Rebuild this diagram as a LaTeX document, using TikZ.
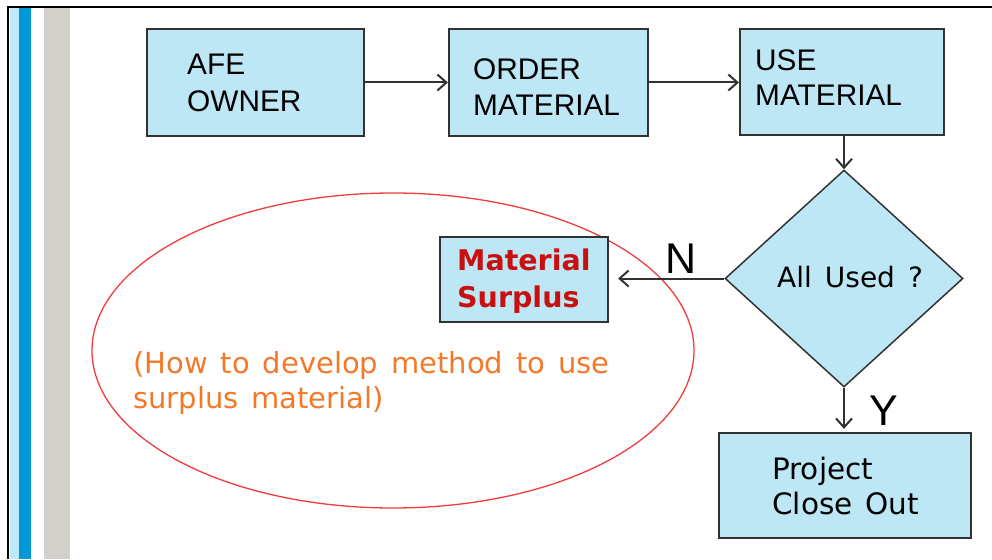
\documentclass[tikz,border=0pt]{standalone}
\usepackage{fontspec}
\setmainfont{Liberation Sans}
\newfontfamily\vfont{DejaVu Sans}
\usetikzlibrary{shapes.geometric,arrows.meta}

\definecolor{boxfill}{RGB}{189,231,245}
\definecolor{boxline}{RGB}{50,50,50}
\definecolor{barlight}{RGB}{189,233,248}
\definecolor{bardark}{RGB}{0,152,214}
\definecolor{bargray}{RGB}{211,207,203}
\definecolor{noteorange}{RGB}{243,121,42}
\definecolor{surplusred}{RGB}{200,16,16}
\definecolor{ringred}{RGB}{240,60,60}

\newcommand{\widespaces}{\spaceskip=13pt plus 2pt\relax}

\begin{document}
\begin{tikzpicture}[x=1pt,y=-1pt,
  box/.style={draw=boxline,fill=boxfill,line width=2.2pt,rectangle,inner sep=0pt},
  decision/.style={draw=boxline,fill=boxfill,line width=1.5pt,diamond,inner sep=0pt},
  arialtxt/.style={anchor=base west,inner sep=0pt,font=\fontsize{29.8}{36}\selectfont},
  verdtxt/.style={anchor=base west,inner sep=0pt,font=\vfont\fontsize{29}{34}\selectfont,
    execute at begin node=\widespaces},
  flow/.style={draw=boxline,line width=2pt,-{Straight Barb[length=9pt,width=16pt,line width=2pt]}},
  branch/.style={anchor=base west,inner sep=0pt,font=\fontsize{43}{43}\selectfont}
]
\useasboundingbox (0,0) rectangle (992,559);

% side bars and frame
\fill[barlight] (10,8) rectangle (19,559);
\fill[bardark] (19,8) rectangle (31,559);
\fill[bargray] (44,8) rectangle (70,559);
\draw[black,line width=2pt] (8,559) -- (8,7) -- (992,7);

% surplus note ring
\draw[ringred,line width=1.3pt] (393,350.5) ellipse [x radius=301,y radius=157.5];

% process boxes
\node[box,minimum width=217,minimum height=107] (afe) at (255.5,82.5) {};
\node[box,minimum width=199,minimum height=107] (order) at (548.5,82.5) {};
\node[box,minimum width=204,minimum height=106] (use) at (842,82) {};
\node[decision,minimum width=238,minimum height=217] (used) at (844,278.5) {};
\node[box,minimum width=168,minimum height=85] (surplus) at (524,279.5) {};
\node[box,minimum width=252,minimum height=105] (close) at (845,485.5) {};

% box texts
\node[arialtxt] (afeA) at (187,75) {AFE};
\node[arialtxt] (afeB) at (187,111) {OWNER};
\node[arialtxt] (orderA) at (473,80) {ORDER};
\node[arialtxt] (orderB) at (473,116) {MATERIAL};
\node[arialtxt] (useA) at (755,71) {USE};
\node[arialtxt] (useB) at (755,106) {MATERIAL};
\node[verdtxt,font=\vfont\fontsize{28}{34}\selectfont] (usedtxt) at (777,287) {All Used ?};
\node[verdtxt,font=\vfont\bfseries\fontsize{28.5}{34}\selectfont,text=surplusred] (surA) at (457,270) {Material};
\node[verdtxt,font=\vfont\bfseries\fontsize{28.5}{34}\selectfont,text=surplusred] (surB) at (457,307) {Surplus};
\node[verdtxt,font=\vfont\fontsize{29.5}{34}\selectfont] (closeA) at (772,479) {Project};
\node[verdtxt,font=\vfont\fontsize{29.5}{34}\selectfont] (closeB) at (772,514) {Close Out};
\node[verdtxt,text=noteorange] (noteA) at (133,373) {(How to develop method to use};
\node[verdtxt,text=noteorange] (noteB) at (133,408) {surplus material)};

% connectors
\draw[flow] (afe) -- (order);
\draw[flow] (order.east) -- (use.west |- order.east);
\draw[flow] (use.south -| used.north) -- (used.north);
\draw[flow,shorten >=9pt] (used.west) -- (surplus.east |- used.west);
\draw[flow,shorten >=3pt] (used.south) -- (close.north -| used.south);

% branch labels
\node[branch] (nlabel) at (665,273) {N};
\node[branch] (ylabel) at (869,425) {Y};
\end{tikzpicture}
\end{document}
